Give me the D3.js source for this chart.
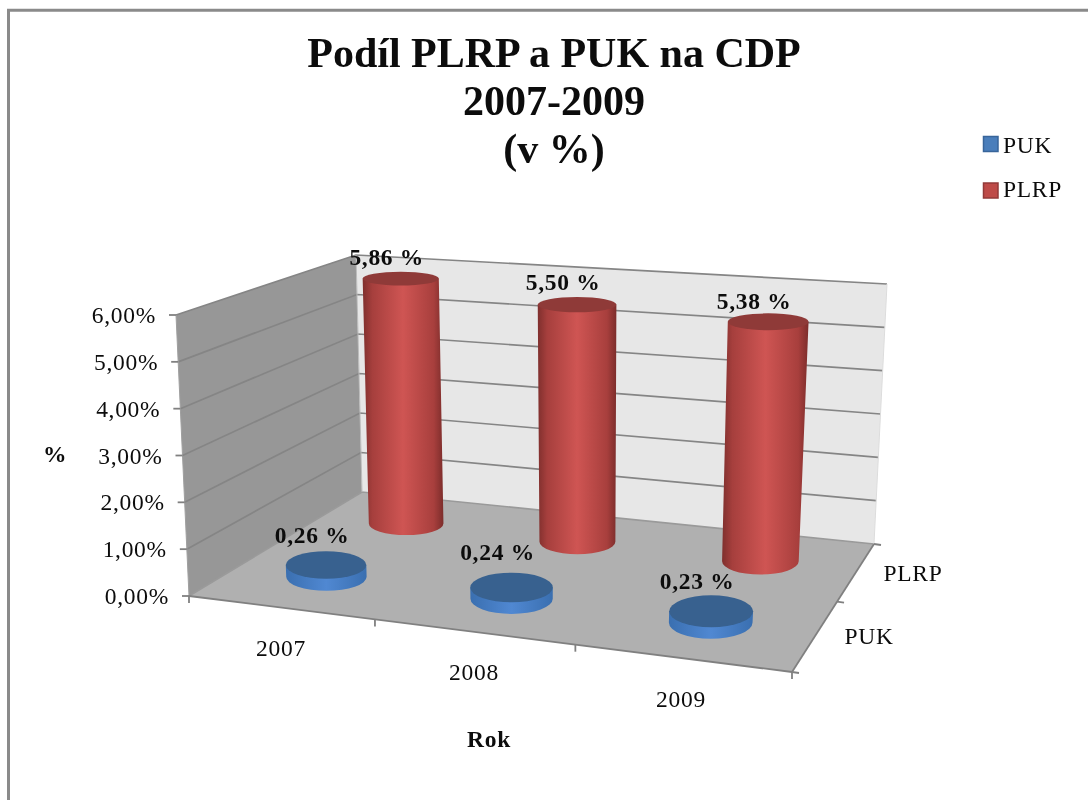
<!DOCTYPE html>
<html><head><meta charset="utf-8">
<script src="https://cdn.jsdelivr.net/npm/d3@7"></script>
<style>html,body{margin:0;padding:0;background:#fff}svg{display:block;filter:blur(0.45px)}text{font-family:"Liberation Serif",serif;fill:#0c0c0c}.t{font-size:23.5px;letter-spacing:.7px}.b{font-weight:bold}</style>
</head><body><svg id="c" width="1088" height="800"></svg>
<script>
const years=["2007","2008","2009"];
const seriesNames=["PUK","PLRP"];
const pukValues=[0.26,0.24,0.23];
const plrpValues=[5.86,5.50,5.38];
const pukLabels=["0,26 %","0,24 %","0,23 %"];
const plrpLabels=["5,86 %","5,50 %","5,38 %"];
const valueTicks=[0,1,2,3,4,5,6];
const tickLabels=["0,00%","1,00%","2,00%","3,00%","4,00%","5,00%","6,00%"];

const svg=d3.select("#c");
const defs=svg.append("defs");
function grad(id,stops){const g=defs.append("linearGradient").attr("id",id);
  stops.forEach(s=>g.append("stop").attr("offset",s[0]).attr("stop-color",s[1]));}
grad("redSide",[[0,"#7f2f2d"],[.12,"#a63f3d"],[.5,"#cf5553"],[.88,"#a83f3d"],[1,"#7c2d2b"]]);
grad("blueSide",[[0,"#3a6fb0"],[.5,"#5088d2"],[1,"#3a6fb0"]]);

// perspective mapping of the plot box
function homography(q){ // unit square -> quad [p00,p10,p11,p01]
  const [[x0,y0],[x1,y1],[x2,y2],[x3,y3]]=q;
  const dx1=x1-x2,dx2=x3-x2,dx3=x0-x1+x2-x3,dy1=y1-y2,dy2=y3-y2,dy3=y0-y1+y2-y3;
  const den=dx1*dy2-dx2*dy1;
  const g=(dx3*dy2-dx2*dy3)/den,h=(dx1*dy3-dx3*dy1)/den;
  const a=x1-x0+g*x1,b=x3-x0+h*x3,d=y1-y0+g*y1,e=y3-y0+h*y3;
  return (u,v)=>{const w=g*u+h*v+1;return [(a*u+b*v+x0)/w,(d*u+e*v+y0)/w];};
}
const floorH=homography([[189,596],[792,672],[874,544],[362,492]]);
const topH=homography([[176,315],[812,361],[887,284],[356,255]]);
const xS=d3.scaleBand().domain(years).range([0,1]);
const zS=d3.scaleBand().domain(seriesNames).range([0,1]);
const yS=d3.scaleLinear().domain([0,6]).range([0,1]);
function P(u,v,val){const a=floorH(u,v),b=topH(u,v),t=yS(val);
  return [a[0]+(b[0]-a[0])*t,a[1]+(b[1]-a[1])*t];}
const poly=pts=>"M"+pts.map(p=>p.join(",")).join("L")+"Z";

// frame
svg.append("path").attr("d","M8.5,800V10.3H1088").attr("fill","none").attr("stroke","#8a8a8a").attr("stroke-width",3);

// walls + floor
svg.append("path").attr("d",poly([P(0,0,0),P(0,1,0),P(0,1,6),P(0,0,6)])).attr("fill","#979797");
svg.append("path").attr("d",poly([P(0,1,0),P(1,1,0),P(1,1,6),P(0,1,6)])).attr("fill","#e7e7e7");
svg.append("path").attr("d",poly([P(0,0,0),P(1,0,0),P(1,1,0),P(0,1,0)])).attr("fill","#b0b0b0");

// gridlines
valueTicks.forEach(v=>{
  const a=P(0,0,v),b=P(0,1,v),c=P(1,1,v);
  svg.append("path").attr("d",`M${a}L${b}L${c}`).attr("fill","none")
    .attr("stroke",v==0?"#9a9a9a":"#858585").attr("stroke-width",1.7);
});
svg.append("path").attr("d",`M${P(0,0,6)}L${P(0,0,0)}`).attr("stroke","#a0a0a0").attr("fill","none");
svg.append("path").attr("d",`M${P(0,1,6)}L${P(0,1,0)}`).attr("stroke","#bbb").attr("fill","none");
svg.append("path").attr("d",`M${P(1,1,6)}L${P(1,1,0)}`).attr("stroke","#ddd").attr("fill","none");

// axes
const axisC="#808080";
function seg(a,b){svg.append("path").attr("d",`M${a}L${b}`).attr("stroke",axisC).attr("stroke-width",1.8).attr("fill","none");}
seg(P(0,0,0),P(1,0,0));seg(P(1,0,0),P(1,1,0));
valueTicks.forEach((v,i)=>{
  const a=P(0,0,v);seg([a[0]-7,a[1]],a);
  svg.append("text").attr("class","t").attr("x",a[0]-20).attr("y",a[1]+8).attr("text-anchor","end").text(tickLabels[i]);
});
[0,1,2,3].forEach(i=>{const a=P(i/3,0,0);seg(a,[a[0],a[1]+7]);});
[0,1,2].forEach(i=>{const a=P(1,i/2,0);seg(a,[a[0]+7,a[1]+1]);});
const catPos=[[281,656],[474,680],[681,707]];
years.forEach((y,i)=>svg.append("text").attr("class","t").attr("x",catPos[i][0]).attr("y",catPos[i][1]).attr("text-anchor","middle").text(y));
svg.append("text").attr("class","t").attr("x",869).attr("y",644).attr("text-anchor","middle").text("PUK");
svg.append("text").attr("class","t").attr("x",913).attr("y",581).attr("text-anchor","middle").text("PLRP");

// cylinders
const RU=[0.075,0.0715,0.0675],RV=0.12;
function ell(u,v,val,ru){const c=P(u,v,val),l=P(u-ru,v,val),r=P(u+ru,v,val),f=P(u,v-RV,val),b=P(u,v+RV,val);
  return {cx:(l[0]+r[0])/2,cy:c[1],rx:(r[0]-l[0])/2,ry:Math.abs(f[1]-b[1])/2};}
function cyl(si,vals,side,top){
  const v=zS(seriesNames[si])+zS.bandwidth()/2;
  years.forEach((y,i)=>{
    const u=xS(y)+xS.bandwidth()/2, B=ell(u,v,0,RU[i]), T=ell(u,v,vals[i],RU[i]);
    const d=`M${T.cx-T.rx},${T.cy}L${B.cx-B.rx},${B.cy}A${B.rx},${B.ry} 0 0 0 ${B.cx+B.rx},${B.cy}L${T.cx+T.rx},${T.cy}Z`;
    svg.append("path").attr("d",d).attr("fill",`url(#${side})`);
    svg.append("ellipse").attr("cx",T.cx).attr("cy",T.cy).attr("rx",T.rx).attr("ry",T.ry).attr("fill",top);
  });
}
cyl(1,plrpValues,"redSide","#8f3a38");
cyl(0,pukValues,"blueSide","#38618f");

// value labels
const labelGap=[[8,13,6],[7,7,4]];
function labels(si,vals,txt){
  const v=zS(seriesNames[si])+zS.bandwidth()/2;
  years.forEach((y,i)=>{
    const u=xS(y)+xS.bandwidth()/2,T=ell(u,v,vals[i],RU[i]);
    svg.append("text").attr("class","t b").attr("x",T.cx-14).attr("y",T.cy-T.ry-labelGap[si][i]).attr("text-anchor","middle").text(txt[i]);
  });
}
labels(1,plrpValues,plrpLabels);
labels(0,pukValues,pukLabels);

// titles
["Podíl PLRP a PUK na CDP","2007-2009","(v %)"].forEach((t,i)=>
  svg.append("text").attr("x",554).attr("y",[67,115,163][i]).attr("text-anchor","middle")
    .attr("font-weight","bold").attr("font-size",42).text(t));
svg.append("text").attr("class","t b").attr("x",489).attr("y",747).attr("text-anchor","middle").text("Rok");
svg.append("text").attr("class","t b").attr("x",55).attr("y",462).attr("text-anchor","middle").text("%");

// legend
const legendC=[["#4a7ebb","#38659a"],["#be4b48","#923a38"]];
seriesNames.forEach((n,i)=>{
  const y=[144,190.5][i];
  svg.append("rect").attr("x",983.5).attr("y",y-7.5).attr("width",14.5).attr("height",15)
    .attr("fill",legendC[i][0]).attr("stroke",legendC[i][1]).attr("stroke-width",1.5);
  svg.append("text").attr("class","t").attr("x",1003).attr("y",[153,197][i]).text(n);
});
</script></body></html>
